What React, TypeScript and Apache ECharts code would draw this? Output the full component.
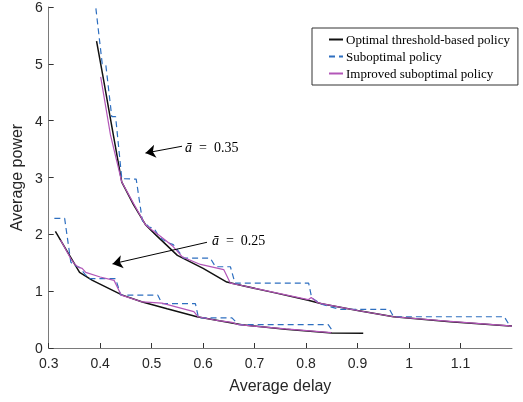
import React, { useEffect, useRef } from 'react';
import * as echarts from 'echarts';

// Optimal threshold-based policy, a = 0.35
const optHighX = [0.393, 0.405, 0.42, 0.442, 0.465, 0.488, 0.508, 0.55, 0.6, 0.646, 0.675, 0.74, 0.804, 0.83, 0.9, 0.97, 1.08, 1.2];
const optHighY = [5.4, 4.8, 4.03, 2.92, 2.52, 2.17, 1.99, 1.63, 1.4, 1.16, 1.1, 0.97, 0.84, 0.78, 0.66, 0.55, 0.46, 0.385];
// Suboptimal policy, a = 0.35
const subHighX = [0.3895, 0.404, 0.411, 0.4225, 0.43, 0.442, 0.47, 0.482, 0.495, 0.505, 0.515, 0.53, 0.542, 0.5625, 0.614, 0.624, 0.653, 0.662, 0.805, 0.811, 0.83, 0.865, 0.962, 0.97, 1.185, 1.195];
const subHighY = [6.15, 5.0, 4.98, 4.07, 4.07, 2.98, 2.97, 2.24, 2.13, 2.1, 1.95, 1.86, 1.82, 1.58, 1.58, 1.43, 1.43, 1.14, 1.14, 0.88, 0.77, 0.68, 0.68, 0.55, 0.55, 0.4];
// Improved suboptimal policy, a = 0.35
const impHighX = [0.401, 0.42, 0.442, 0.465, 0.488, 0.5, 0.515, 0.525, 0.54, 0.56, 0.595, 0.64, 0.653, 0.675, 0.804, 0.81, 0.822, 0.83, 0.9, 0.97, 1.08, 1.2];
const impHighY = [4.77, 3.75, 2.92, 2.54, 2.17, 2.08, 1.98, 1.91, 1.8, 1.6, 1.47, 1.38, 1.14, 1.1, 0.85, 0.89, 0.8, 0.78, 0.66, 0.55, 0.47, 0.385];

// Optimal threshold-based policy, a = 0.25
const optLowX = [0.313, 0.36, 0.385, 0.443, 0.482, 0.53, 0.588, 0.675, 0.76, 0.85, 0.911];
const optLowY = [2.05, 1.33, 1.19, 0.93, 0.81, 0.69, 0.55, 0.41, 0.33, 0.265, 0.26];
// Suboptimal policy, a = 0.25
const subLowX = [0.311, 0.331, 0.343, 0.35, 0.36, 0.372, 0.379, 0.43, 0.44, 0.512, 0.52, 0.585, 0.591, 0.656, 0.669, 0.843, 0.853];
const subLowY = [2.28, 2.28, 1.51, 1.45, 1.42, 1.28, 1.22, 1.22, 0.93, 0.93, 0.78, 0.78, 0.53, 0.53, 0.41, 0.41, 0.28];
// Improved suboptimal policy, a = 0.25
const impLowX = [0.323, 0.343, 0.35, 0.358, 0.365, 0.372, 0.4, 0.427, 0.441, 0.482, 0.52, 0.582, 0.59, 0.63, 0.656, 0.669, 0.76, 0.849];
const impLowY = [1.9, 1.57, 1.48, 1.42, 1.4, 1.33, 1.25, 1.19, 0.93, 0.81, 0.79, 0.64, 0.55, 0.48, 0.45, 0.41, 0.335, 0.27];

const seriesNames = ['Optimal threshold-based policy', 'Suboptimal policy', 'Improved suboptimal policy'];

// Annotations (data coordinates)
const annoLabels = ['0.35', '0.25'];
const annoTail = [[0.559, 3.55], [0.6075, 1.86]];
const annoTip = [[0.488, 3.43], [0.424, 1.48]];
const annoText = [[0.565, 3.53], [0.617, 1.89]];

const zip = (xs: number[], ys: number[]) => xs.map((x, i) => [x, ys[i]]);

export default function App() {
  const ref = useRef<HTMLDivElement>(null);
  useEffect(() => {
    const chart = echarts.init(ref.current!, null, { renderer: 'svg' });
    const sans = 'Liberation Sans, Arial, sans-serif';
    const serif = 'Liberation Serif, Times New Roman, serif';
    const black = { color: '#111111', width: 1.5, type: 'solid' as const };
    const blue = { color: '#2e6fc0', width: 1.2, type: [6, 4] as any };
    const purple = { color: '#b356b8', width: 1.2, type: 'solid' as const };
    const mk = (name: string, data: number[][], ls: any, color: string, extra: any = {}) => ({
      type: 'line',
      name,
      data,
      symbol: 'none',
      lineStyle: ls,
      itemStyle: { color },
      clip: true,
      silent: true,
      ...extra,
    });
    const option: any = {
      animation: false,
      grid: { left: 46, right: 11, top: 5, bottom: 54, containLabel: false },
      legend: {
        orient: 'vertical',
        left: 312,
        top: 28,
        padding: [5, 8, 5, 16],
        itemGap: 4,
        itemWidth: 14,
        itemHeight: 14,
        borderColor: '#333',
        borderWidth: 1,
        backgroundColor: '#fff',
        borderRadius: 0,
        itemStyle: { color: 'transparent', borderColor: 'transparent', borderWidth: 0, opacity: 0 },
        textStyle: { fontFamily: serif, fontSize: 13, color: '#000', padding: [0, 0, 0, -2] },
        data: seriesNames,
      },
      xAxis: {
        type: 'value',
        min: 0.3,
        max: 1.2,
        interval: 0.1,
        name: 'Average delay',
        nameLocation: 'middle',
        nameGap: 29,
        nameTextStyle: { fontFamily: sans, fontSize: 16, color: '#262626' },
        axisLine: { onZero: false, lineStyle: { color: '#7a7a7a', width: 1 } },
        axisTick: { inside: true, length: 5, lineStyle: { color: '#333' } },
        axisLabel: { fontFamily: sans, fontSize: 14, color: '#262626', margin: 8, showMaxLabel: false },
        splitLine: { show: false },
      },
      yAxis: {
        type: 'value',
        min: 0,
        max: 6,
        interval: 1,
        name: 'Average power',
        nameLocation: 'middle',
        nameGap: 20,
        nameTextStyle: { fontFamily: sans, fontSize: 16, color: '#262626' },
        axisLine: { show: true, lineStyle: { color: '#7a7a7a', width: 1 } },
        axisTick: { show: true, inside: true, length: 5, lineStyle: { color: '#333' } },
        axisLabel: { fontFamily: sans, fontSize: 14, color: '#262626', margin: 6 },
        splitLine: { show: false },
      },
      series: [
        mk(seriesNames[0], zip(optHighX, optHighY), black, '#111111', {
          markLine: {
            silent: true,
            symbol: ['none', 'arrow'],
            symbolSize: 10,
            lineStyle: { color: '#000', width: 1, type: 'solid' },
            itemStyle: { color: '#000' },
            label: { show: false },
            data: annoTail.map((t, i) => [{ coord: t }, { coord: annoTip[i] }]),
          },
        }),
        mk(seriesNames[0], zip(optLowX, optLowY), black, '#111111'),
        mk(seriesNames[1], zip(subHighX, subHighY), blue, '#2e6fc0'),
        mk(seriesNames[1], zip(subLowX, subLowY), blue, '#2e6fc0'),
        mk(seriesNames[2], zip(impHighX, impHighY), purple, '#b356b8'),
        mk(seriesNames[2], zip(impLowX, impLowY), purple, '#b356b8'),
      ],
    };
    chart.setOption(option);
    const graphics = annoText.map((pt, i) => {
      const [px, py] = chart.convertToPixel({ gridIndex: 0 }, pt) as number[];
      return {
        type: 'text',
        x: px,
        y: py,
        silent: true,
        style: {
          text: '{i|ā}  =  ' + annoLabels[i],
          fontFamily: serif,
          fontSize: 14,
          fill: '#000',
          verticalAlign: 'middle',
          align: 'left',
          rich: { i: { fontFamily: serif, fontSize: 14, fontStyle: 'italic', fill: '#000' } },
        },
      };
    });
    chart.setOption({ graphic: graphics });
    return () => chart.dispose();
  }, []);
  return <div ref={ref} style={{ position: 'fixed', left: 0, top: 0, width: 523, height: 402 }} />;
}
